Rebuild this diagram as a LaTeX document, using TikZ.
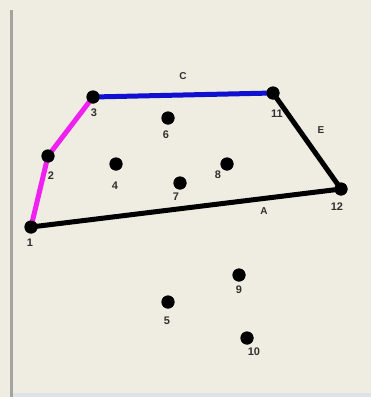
\documentclass[tikz,border=0pt]{standalone}
\usepackage{fontspec}
\setsansfont{Liberation Sans}
\definecolor{cpaper}{HTML}{EFECE2}
\definecolor{cframe}{HTML}{A3A3A0}
\definecolor{cedge}{HTML}{DCE2E6}
\definecolor{cpink}{HTML}{F020F0}
\definecolor{cblue}{HTML}{1010D0}
\definecolor{ctext}{HTML}{303030}
\tikzset{
  every picture/.style={font=\sffamily\bfseries},
  dot/.style={circle, fill=black, inner sep=0pt, minimum size=13pt},
  side/.style={line width=5pt, line cap=round, draw=#1},
  side/.default=black,
  num/.style={font=\sffamily\bfseries\fontsize{11}{11}\selectfont, text=ctext, inner sep=0pt},
  tag/.style={font=\sffamily\bfseries\fontsize{10}{10}\selectfont, text=ctext, inner sep=0pt},
}

\begin{document}
\begin{tikzpicture}[x=1pt, y=-1pt]
  \useasboundingbox[fill=cpaper] (0,0) rectangle (371,397);
  \fill[cedge] (12,393) rectangle (371,397);
  \draw[cframe, line width=3pt] (11,10) -- (11,397);
  % points
  \foreach \n/\x/\y in {1/31/227, 2/48/156, 3/93/97, 4/116/164, 5/168/302, 6/168/118,
                        7/180/183, 8/227/164, 9/239/275, 10/247/338, 11/273/93, 12/341/189} {
    \node[dot] (p\n) at (\x,\y) {};
  }
  % hull
  \draw[side=cpink] (p1.center) -- (p2.center) -- (p3.center);
  \draw[side=cblue] (p3.center) -- (p11.center);
  \draw[side] (p11.center) -- (p12.center) -- (p1.center);
  \foreach \n in {1,...,12} {
    \node[dot] at (p\n) {};
  }
  % numbers
  \foreach \n/\x/\y in {1/30/243, 2/51/176, 3/94/113, 4/115/186, 5/167/321, 6/166/135,
                        7/176/197, 8/218/175, 9/239/290, 10/254/352, 11/277/114, 12/337/207} {
    \node[num] (l\n) at (\x,\y) {\n};
  }
  \node[tag] (sa) at (264,211) {A};
  \node[tag] (sc) at (183,76) {C};
  \node[tag] (se) at (321,130) {E};
\end{tikzpicture}
\end{document}
